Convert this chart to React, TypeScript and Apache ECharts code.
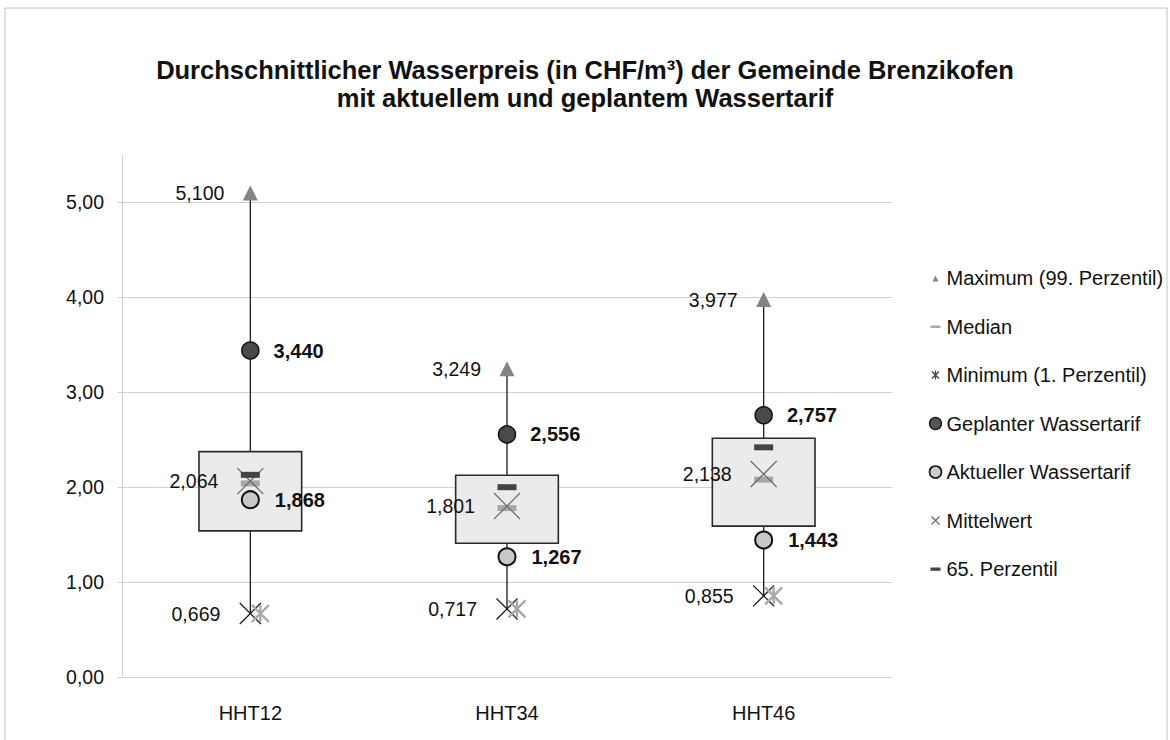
import React, { useEffect, useRef } from "react";
import * as echarts from "echarts";

const categories = ["HHT12", "HHT34", "HHT46"];
const maxValues = [5.1, 3.249, 3.977];
const minValues = [0.669, 0.717, 0.855];
const q1Values = [1.54, 1.41, 1.59];
const q3Values = [2.375, 2.126, 2.516];
const medianValues = [2.04, 1.78, 2.08];
const meanValues = [2.064, 1.801, 2.138];
const p65Values = [2.13, 2.0, 2.42];
const plannedValues = [3.44, 2.556, 2.757];
const currentValues = [1.868, 1.267, 1.443];
const yTicks = [0, 1, 2, 3, 4, 5];

const titleText =
  "Durchschnittlicher Wasserpreis (in CHF/m³) der Gemeinde Brenzikofen\nmit aktuellem und geplantem Wassertarif";

const FONT = "'Liberation Sans', Arial, Helvetica, sans-serif";
const TXT = "#111111";
const GRID = "#cfcfcf";

const fmt3 = (v: number) => v.toFixed(3).replace(".", ",");
const fmt2 = (v: number) => v.toFixed(2).replace(".", ",");

const X_PATH = "path://M0,0 L10,10 M10,0 L0,10";
const AST_PATH = "path://M0,0 L10,10 M10,0 L0,10 M5,0 L5,10";

export default function App() {
  const ref = useRef<HTMLDivElement>(null);

  useEffect(() => {
    if (!ref.current) return;
    const chart = echarts.init(ref.current, undefined, { renderer: "svg" });

    const labelBase = {
      show: true,
      fontFamily: FONT,
      fontSize: 19.5,
      color: TXT,
    };

    const option: any = {
      animation: false,
      backgroundColor: "#ffffff",
      textStyle: { fontFamily: FONT },
      title: {
        text: titleText,
        left: "center",
        top: 56,
        padding: [0, 0, 0, 16],
        textStyle: {
          fontFamily: FONT,
          fontSize: 25.5,
          fontWeight: "bold",
          color: TXT,
          lineHeight: 28,
        },
      },
      graphic: [
        {
          type: "rect",
          silent: true,
          shape: { x: 5, y: 8, width: 1162, height: 760 },
          style: { fill: "none", stroke: "#c4c4c4", lineWidth: 1 },
        },
      ],
      legend: {
        orient: "vertical",
        left: 922,
        top: 263,
        itemWidth: 12,
        itemHeight: 12,
        itemGap: 28.5,
        selectedMode: false,
        textStyle: { fontFamily: FONT, fontSize: 20, color: TXT },
        data: [
          {
            name: "Maximum (99. Perzentil)",
            icon: "path://M0,0 M12,12 M3,9.5 L6,3.5 L9,9.5 Z",
            itemStyle: { color: "#848484", borderWidth: 0, opacity: 1 },
          },
          {
            name: "Median",
            icon: "path://M0,0 M12,12 M1,5 L11,5 L11,7.5 L1,7.5 Z",
            itemStyle: { color: "#a8a8a8", borderWidth: 0, opacity: 1 },
          },
          {
            name: "Minimum (1. Perzentil)",
            icon: "path://M0,0 M12,12 M2.5,2.5 L9.5,9.5 M9.5,2.5 L2.5,9.5 M6,1.5 L6,10.5",
            itemStyle: { color: "none", borderColor: "#444", borderWidth: 1.3, opacity: 1 },
          },
          {
            name: "Geplanter Wassertarif",
            icon: "circle",
            itemStyle: { color: "#555555", borderColor: "#111", borderWidth: 1.3, opacity: 1 },
          },
          {
            name: "Aktueller Wassertarif",
            icon: "circle",
            itemStyle: { color: "#cccccc", borderColor: "#111", borderWidth: 1.6, opacity: 1 },
          },
          {
            name: "Mittelwert",
            icon: "path://M0,0 M12,12 M2,2 L10,10 M10,2 L2,10",
            itemStyle: { color: "none", borderColor: "#666", borderWidth: 1.1, opacity: 1 },
          },
          {
            name: "65. Perzentil",
            icon: "path://M0,0 M12,12 M1,4.5 L11,4.5 L11,7.8 L1,7.8 Z",
            itemStyle: { color: "#444444", borderWidth: 0, opacity: 1 },
          },
        ],
      },
      grid: { left: 122, right: 278, top: 155, bottom: 63, containLabel: false },
      xAxis: {
        type: "category",
        data: categories,
        boundaryGap: true,
        axisLine: { show: true, lineStyle: { color: GRID, width: 1 } },
        axisTick: { show: false },
        axisLabel: { fontFamily: FONT, fontSize: 20, color: TXT, margin: 26 },
        splitLine: { show: false },
      },
      yAxis: {
        type: "value",
        min: 0,
        max: 5.5,
        interval: 1,
        axisLine: { show: true, lineStyle: { color: GRID, width: 1 } },
        axisTick: { show: true, length: 4, lineStyle: { color: GRID } },
        axisLabel: {
          fontFamily: FONT,
          fontSize: 19.5,
          color: TXT,
          margin: 18,
          showMaxLabel: false,
          formatter: (v: number) => (yTicks.includes(v) ? fmt2(v) : ""),
        },
        splitLine: {
          show: true,
          showMaxLine: false,
          lineStyle: { color: GRID, width: 1 },
        },
      },
      series: [
        {
          name: "box",
          type: "custom",
          silent: true,
          z: 1,
          encode: { x: 0, y: [1, 2, 3, 4] },
          data: categories.map((_, i) => [
            i,
            minValues[i],
            q1Values[i],
            q3Values[i],
            maxValues[i],
          ]),
          renderItem: (params: any, api: any) => {
            const i = api.value(0);
            const pMin = api.coord([i, api.value(1)]);
            const pQ1 = api.coord([i, api.value(2)]);
            const pQ3 = api.coord([i, api.value(3)]);
            const pMax = api.coord([i, api.value(4)]);
            const bw = api.size([1, 0])[0] * 0.4;
            const x = pMin[0];
            const h = 10.5;
            const lineStyle = { stroke: "#1a1a1a", lineWidth: 1.3 };
            return {
              type: "group",
              children: [
                {
                  type: "line",
                  shape: { x1: x, y1: pMin[1], x2: x, y2: pMax[1] },
                  style: lineStyle,
                },
                {
                  type: "rect",
                  shape: {
                    x: x - bw / 2,
                    y: pQ3[1],
                    width: bw,
                    height: pQ1[1] - pQ3[1],
                  },
                  style: { fill: "#ebebeb", stroke: "#2a2a2a", lineWidth: 1.6 },
                },
                {
                  type: "line",
                  shape: { x1: x - h, y1: pMin[1] - h, x2: x + h, y2: pMin[1] + h },
                  style: lineStyle,
                },
                {
                  type: "line",
                  shape: { x1: x + h, y1: pMin[1] - h, x2: x - h, y2: pMin[1] + h },
                  style: lineStyle,
                },
              ],
            };
          },
        },
        {
          name: "Median",
          type: "scatter",
          z: 2,
          data: medianValues,
          symbol: "rect",
          symbolSize: [19, 6],
          itemStyle: { color: "#a8a8a8", opacity: 1 },
        },
        {
          name: "Mittelwert",
          type: "scatter",
          z: 3,
          data: meanValues,
          symbol: X_PATH,
          symbolSize: 26,
          itemStyle: { color: "none", borderColor: "#6e6e6e", borderWidth: 1.3, opacity: 1 },
          label: {
            ...labelBase,
            position: "left",
            distance: 16.5,
            formatter: (p: any) => fmt3(p.value),
          },
        },
        {
          name: "65. Perzentil",
          type: "scatter",
          z: 4,
          data: p65Values,
          symbol: "rect",
          symbolSize: [19, 6],
          itemStyle: { color: "#444444", opacity: 1 },
        },
        {
          name: "Minimum (1. Perzentil)",
          type: "scatter",
          z: 4,
          data: minValues,
          symbol: AST_PATH,
          symbolSize: 17,
          symbolOffset: [10, 0],
          itemStyle: { color: "none", borderColor: "#a8a8a8", borderWidth: 2.4, opacity: 1 },
          label: {
            ...labelBase,
            position: "left",
            distance: 29,
            formatter: (p: any) => fmt3(p.value),
          },
        },
        {
          name: "Maximum (99. Perzentil)",
          type: "scatter",
          z: 4,
          data: maxValues,
          symbol: "triangle",
          symbolSize: [15, 15],
          itemStyle: { color: "#848484", opacity: 1 },
          label: {
            ...labelBase,
            position: "left",
            distance: 18.5,
            formatter: (p: any) => fmt3(p.value),
          },
        },
        {
          name: "Geplanter Wassertarif",
          type: "scatter",
          z: 5,
          data: plannedValues,
          symbol: "circle",
          symbolSize: 17,
          itemStyle: { color: "#4a4a4a", borderColor: "#111", borderWidth: 1.5, opacity: 1 },
          label: {
            ...labelBase,
            fontWeight: "bold",
            fontSize: 20,
            position: "right",
            distance: 14,
            formatter: (p: any) => fmt3(p.value),
          },
        },
        {
          name: "Aktueller Wassertarif",
          type: "scatter",
          z: 5,
          data: currentValues,
          symbol: "circle",
          symbolSize: 17,
          itemStyle: { color: "#c8c8c8", borderColor: "#111", borderWidth: 2, opacity: 1 },
          label: {
            ...labelBase,
            fontWeight: "bold",
            fontSize: 20,
            position: "right",
            distance: 15,
            formatter: (p: any) => fmt3(p.value),
          },
        },
      ],
    };

    chart.setOption(option);
    return () => chart.dispose();
  }, []);

  return (
    <div
      ref={ref}
      style={{ position: "absolute", left: 0, top: 0, width: 1170, height: 740 }}
    />
  );
}
